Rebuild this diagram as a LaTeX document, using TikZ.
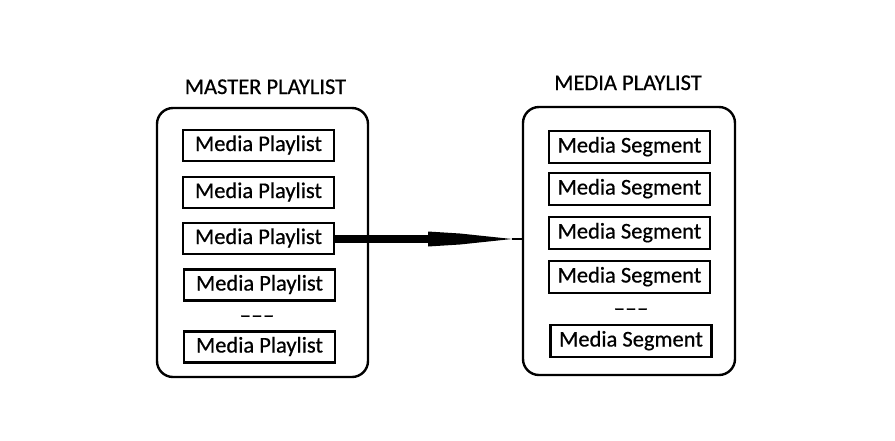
\documentclass[tikz,border=0pt]{standalone}
\usepackage{fontspec}
\setmainfont{Carlito}[FakeBold=0.6]
\begin{document}
\begin{tikzpicture}[x=1pt,y=-1pt,
  itembox/.style={draw=black,line width=2.6pt,minimum height=31pt,inner sep=0pt,
    font=\fontsize{22.5}{25}\selectfont,text height=15.5pt,text depth=4.5pt},
  outerbox/.style={draw=black,line width=2.4pt,rounded corners=16pt},
  title/.style={font=\fontsize{22.5}{25}\selectfont,anchor=base},
  gap/.style={font=\fontsize{22.5}{25}\selectfont,inner sep=0pt}]
\useasboundingbox (0,0) rectangle (895,440);
% outer containers
\draw[outerbox] (157,108) rectangle (368,377);
\draw[outerbox] (523,107) rectangle (735,375);
\coordinate (rin) at (523,239);
% titles
\node[title] (t1) at (265.5,94) {MASTER PLAYLIST};
\node[title] (t2) at (628,90) {MEDIA PLAYLIST};
% left items
\node[itembox,minimum width=151pt] (p1) at (258.5,145.5) {Media Playlist};
\node[itembox,minimum width=151pt] (p2) at (258.5,192.5) {Media Playlist};
\node[itembox,minimum width=151pt] (p3) at (258.5,238.5) {Media Playlist};
\node[itembox,minimum width=151pt] (p4) at (259.5,285) {Media Playlist};
\node[gap] (d1) at (257,319) {\textendash\kern0.5pt\textendash\kern0.5pt\textendash};
\node[itembox,minimum width=151pt] (p5) at (259.5,347) {Media Playlist};
% right items
\node[itembox,minimum width=161pt,minimum height=32pt] (s1) at (629.5,147) {Media Segment};
\node[itembox,minimum width=161pt,minimum height=32pt] (s2) at (629.5,189) {Media Segment};
\node[itembox,minimum width=161pt,minimum height=32pt] (s3) at (629.5,233) {Media Segment};
\node[itembox,minimum width=161pt,minimum height=32pt] (s4) at (629.5,277) {Media Segment};
\node[gap] (d2) at (631,312) {\textendash\kern0.5pt\textendash\kern0.5pt\textendash};
\node[itembox,minimum width=161pt,minimum height=32pt] (s5) at (631,341) {Media Segment};
% arrow
\coordinate (hb) at (428,239);
\coordinate (tip) at (512,239);
\draw[line width=8pt] (p3.east |- hb) -- (hb);
\fill (428,231.5) -- (460,233.5) -- (tip) -- (460,244.5) -- (428,246.5) -- cycle;
\draw[line width=1.3pt] (tip) -- (rin);
\end{tikzpicture}
\end{document}
